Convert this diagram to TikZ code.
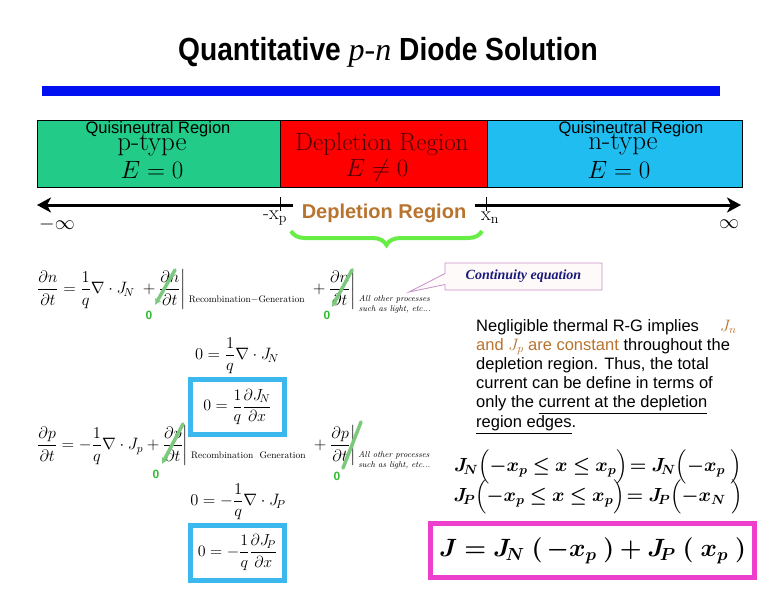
\documentclass[tikz,border=0pt]{standalone}
\usepackage{fix-cm}
\usepackage{amsmath,amssymb}
\usepackage{bm}
\usepackage{fontspec}
\setsansfont{Liberation Sans}
\newfontfamily\timesfont{Liberation Serif}
\newfontfamily\titlefont[FakeStretch=0.88]{Liberation Sans}
\usepackage{tikz}
\usetikzlibrary{arrows.meta,positioning,decorations.pathreplacing,shapes.callouts}
\definecolor{pnGreen}{HTML}{22CC88}
\definecolor{pnRed}{HTML}{FF0000}
\definecolor{pnCyan}{HTML}{20BEF0}
\definecolor{pnBar}{HTML}{0010F0}
\definecolor{pnOrange}{HTML}{B8732E}
\definecolor{pnBrace}{HTML}{66EE44}
\definecolor{pnSlash}{HTML}{7CC87C}
\definecolor{pnZero}{HTML}{33BB33}
\definecolor{pnBox}{HTML}{3DB8EE}
\definecolor{pnMagenta}{HTML}{EE3FCC}
\definecolor{pnCallout}{HTML}{C890C8}
\definecolor{pnNavy}{HTML}{1A1A7A}
\newcommand{\rgfont}{\fontsize{9.5}{10}\selectfont}
\newcommand{\otherfont}{\itshape\fontsize{8.5}{9.5}\selectfont}

\begin{document}
\begin{tikzpicture}[x=1pt,y=-1pt,
  region/.style={draw=black,line width=1pt,inner sep=0pt,minimum height=67pt},
  regtxt/.style={font=\sffamily\fontsize{16.5}{18}\selectfont,inner sep=0pt},
  bigrm/.style={font=\fontsize{25}{28}\selectfont,inner sep=0pt},
  axis/.style={line width=3pt},
  tickmark/.style={line width=1pt},
  ticklbl/.style={font=\fontsize{20}{22}\selectfont,inner sep=0pt},
  eqn/.style={font=\fontsize{16.5}{19}\selectfont,inner sep=0pt},
  strike/.style={line width=3.5pt,draw=pnSlash,line cap=round},
  zero/.style={font=\sffamily\bfseries\fontsize{12}{12}\selectfont,text=pnZero,inner sep=0pt},
  cbox/.style={draw=pnBox,line width=5pt,fill=white,minimum width=94pt,minimum height=55pt,inner sep=0pt,font=\fontsize{16}{19}\selectfont},
  jeq/.style={font=\fontsize{19}{22}\selectfont,inner sep=0pt}]
\useasboundingbox (0,0) rectangle (762,600);
% title and bar
\node[font=\titlefont\bfseries\fontsize{32}{35}\selectfont] (title) at (388,52)
  {Quantitative {\timesfont\mdseries\itshape p-n} Diode Solution};
\fill[pnBar] (42,86) rectangle (720,96);
% the three regions
\node[region,fill=pnGreen,minimum width=243pt] (preg) at (158.5,153.5) {};
\node[region,fill=pnRed,minimum width=207pt] (dreg) at (383.5,153.5) {};
\node[region,fill=pnCyan,minimum width=255pt] (nreg) at (614.5,153.5) {};
\node[regtxt] (pq) at (158,129) {Quisineutral Region};
\node[bigrm,font=\fontsize{27}{29}\selectfont] (pt) at (152,145) {p-type};
\node[bigrm] (pe) at (152,170) {$E=0$};
\node[bigrm,text=red!30!black] (dt) at (382,144) {Depletion Region};
\node[bigrm,text=red!30!black] (de) at (377,170) {$E\neq0$};
\node[regtxt] (nq) at (631,129) {Quisineutral Region};
\node[bigrm,font=\fontsize{27}{29}\selectfont] (nt) at (623,144) {n-type};
\node[bigrm] (ne) at (619,170) {$E=0$};
% x axis
\coordinate (axl) at (37,205);
\coordinate (axlend) at (293,205);
\coordinate (axrbeg) at (475,205);
\coordinate (axr) at (741,205);
\draw[axis,{Stealth[length=14pt,width=15pt,inset=4pt]}-] (axl) -- (axlend);
\draw[axis,-{Stealth[length=14pt,width=15pt,inset=4pt]}] (axrbeg) -- (axr);
\draw[tickmark] (280,197) -- (280,211);
\draw[tickmark] (486,197) -- (486,211);
\node[ticklbl] (minf) at (57,224) {$-\infty$};
\node[ticklbl] (xp) at (275,218) {-x$_{\mathrm{p}}$};
\node[ticklbl] (xn) at (490,218) {x$_{\mathrm{n}}$};
\node[ticklbl] (pinf) at (729,224) {$\infty$};
\node[font=\sffamily\bfseries\fontsize{20}{22}\selectfont,text=pnOrange] (dlab) at (384,213) {Depletion Region};
\draw[pnBrace,line width=4pt,decorate,decoration={brace,amplitude=14pt}] (482,231) -- (291,231);
% continuity equation callout
\node[rectangle callout,callout absolute pointer={(409,292)},callout pointer width=11pt,
  draw=pnCallout,line width=0.8pt,fill=pink!8,minimum width=157pt,minimum height=27pt,
  font=\timesfont\bfseries\itshape\fontsize{14}{16}\selectfont,text=pnNavy] (cont) at (523.5,276.5) {Continuity equation};
% electrons
\node[eqn,anchor=west] (eqn1) at (37,292) {$\displaystyle\frac{\partial n}{\partial t}=\frac{1}{q}\nabla\cdot J_{\!N}\;+\frac{\partial n}{\partial t}\bigg|\,\raisebox{-9pt}{\rgfont Recombination$-$Generation}\;+\frac{\partial n}{\partial t}\bigg|\,\raisebox{-13pt}{\otherfont\begin{tabular}{@{}l@{}}All other processes\\such as light, etc...\end{tabular}}$};
\node[eqn] (eqn2) at (237,356) {$\displaystyle0=\frac{1}{q}\nabla\cdot J_{\!N}$};
\node[cbox] (box1) at (237.5,407) {$\displaystyle0=\frac{1}{q}\frac{\partial J_{\!N}}{\partial x}$};
% holes
\node[eqn,anchor=west] (eqn3) at (37,448) {$\displaystyle\frac{\partial p}{\partial t}=-\frac{1}{q}\nabla\cdot J_p+\frac{\partial p}{\partial t}\bigg|\,\raisebox{-9pt}{\rgfont Recombination\ \ Generation}\;+\frac{\partial p}{\partial t}\bigg|\,\raisebox{-13pt}{\otherfont\begin{tabular}{@{}l@{}}All other processes\\such as light, etc...\end{tabular}}$};
\node[eqn] (eqn4) at (238,502) {$\displaystyle0=-\frac{1}{q}\nabla\cdot J_{\!P}$};
\node[cbox] (box2) at (237.5,552.5) {$\displaystyle0=-\frac{1}{q}\frac{\partial J_{\!P}}{\partial x}$};
% struck out terms
\coordinate (s1a) at (175,270); \coordinate (s1b) at (155,305);
\coordinate (s2a) at (352,270); \coordinate (s2b) at (332,307);
\coordinate (s3a) at (183,424); \coordinate (s3b) at (162,464);
\coordinate (s4a) at (361,422); \coordinate (s4b) at (343,468);
\draw[strike,-{Latex[length=6pt,width=7pt]}] (s1a) -- (s1b);
\draw[strike,-{Latex[length=6pt,width=7pt]}] (s2a) -- (s2b);
\draw[strike,-{Latex[length=6pt,width=7pt]}] (s3a) -- (s3b);
\draw[strike] (s4a) -- (s4b);
\node[zero] (z1) at (149,315) {0};
\node[zero] (z2) at (327,315) {0};
\node[zero] (z3) at (156,474) {0};
\node[zero] (z4) at (337,476) {0};
% explanation
\node[anchor=north west,align=left,inner sep=0pt,font=\sffamily\fontsize{16.5}{19.2}\selectfont] (note) at (476,319)
  {Negligible thermal R-G implies \quad{\color{pnOrange}$J_n$}\\
   {\color{pnOrange}and $J_p$ are constant} throughout the\\
   depletion region. Thus, the total\\
   current can be define in terms of\\
   only the \underline{current at the depletion}\\
   \underline{region edges}.};
\node[jeq] (jnedge) at (598,467) {$\bm{J_{\!N}\Bigl(-x_p\le x\le x_p\Bigr)\!= J_{\!N}\Bigl(-x_p\;\Bigr)}$};
\node[jeq] (jpedge) at (598,497) {$\bm{J_{\!P}\Bigl(-x_p\le x\le x_p\Bigr)\!= J_{\!P}\Bigl(-x_N\;\Bigr)}$};
\node[draw=pnMagenta,line width=5pt,minimum width=324pt,minimum height=54pt,inner sep=0pt,
  font=\fontsize{25}{28}\selectfont] (jtot) at (592.5,550.5)
  {$\bm{J=J_{\!N}\;(\,-x_p\;)+J_{\!P}\;(\;x_p\;)}$};
\end{tikzpicture}
\end{document}
